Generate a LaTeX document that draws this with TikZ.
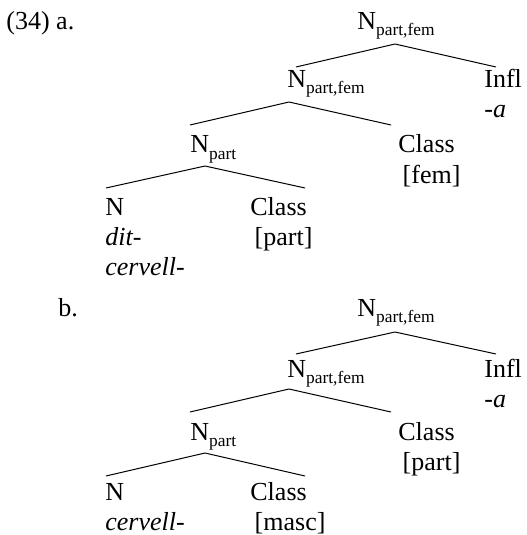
\documentclass[tikz,border=0pt]{standalone}
\usepackage{fontspec}
\setmainfont{Liberation Serif}
\newcommand{\catsub}[2]{#1\raisebox{-3pt}{\fontsize{8.7}{9}\selectfont #2}}
\tikzset{lbl/.style={inner sep=0pt, anchor=base west, align=left},
  branch/.style={line width=0.5pt}}

\begin{document}
\begin{tikzpicture}[x=0.5pt,y=-0.5pt,font=\fontsize{13}{15}\selectfont]
\useasboundingbox (0,0) rectangle (526,535);
% (34a)
\node[lbl] (anum) at (6,30) {(34) a.};
\node[lbl] (aroot) at (357,30) {\catsub{N}{part,fem}};
\node[lbl] (amid) at (287,88) {\catsub{N}{part,fem}};
\node[lbl] (ainfl) at (484,118) {Infl\\\textit{-a}};
\node[lbl] (alow) at (190,153) {\catsub{N}{part}};
\node[lbl] (aclass) at (398,183) {Class\\\,[fem]};
\node[lbl] (an) at (105,275) {N\\\textit{dit-}\\\textit{cervell-}};
\node[lbl] (acl) at (250,245) {Class\\\,[part]};
\draw[branch] ([shift={(38,14)}]aroot.base west) -- ([shift={(9,-21)}]amid.base west);
\draw[branch] ([shift={(38,14)}]aroot.base west) -- ([shift={(12,-51)}]ainfl.base west);
\draw[branch] ([shift={(2,14)}]amid.base west) -- ([shift={(0,-28)}]alow.base west);
\draw[branch] ([shift={(2,14)}]amid.base west) -- ([shift={(-7,-58)}]aclass.base west);
\draw[branch] ([shift={(15,13)}]alow.base west) -- ([shift={(1,-87)}]an.base west);
\draw[branch] ([shift={(15,13)}]alow.base west) -- ([shift={(55,-57)}]acl.base west);
% (34b)
\node[lbl] (bnum) at (58,316) {b.};
\node[lbl] (broot) at (357,316) {\catsub{N}{part,fem}};
\node[lbl] (bmid) at (287,377) {\catsub{N}{part,fem}};
\node[lbl] (binfl) at (484,407) {Infl\\\textit{-a}};
\node[lbl] (blow) at (190,440) {\catsub{N}{part}};
\node[lbl] (bclass) at (398,470) {Class\\\,[part]};
\node[lbl] (bn) at (105,530) {N\\\textit{cervell-}};
\node[lbl] (bcl) at (250,530) {Class\\\,[masc]};
\draw[branch] ([shift={(38,16)}]broot.base west) -- ([shift={(9,-23)}]bmid.base west);
\draw[branch] ([shift={(38,16)}]broot.base west) -- ([shift={(12,-53)}]binfl.base west);
\draw[branch] ([shift={(2,12)}]bmid.base west) -- ([shift={(0,-28)}]blow.base west);
\draw[branch] ([shift={(2,12)}]bmid.base west) -- ([shift={(-7,-58)}]bclass.base west);
\draw[branch] ([shift={(15,13)}]blow.base west) -- ([shift={(1,-54)}]bn.base west);
\draw[branch] ([shift={(15,13)}]blow.base west) -- ([shift={(55,-54)}]bcl.base west);
\end{tikzpicture}
\end{document}
